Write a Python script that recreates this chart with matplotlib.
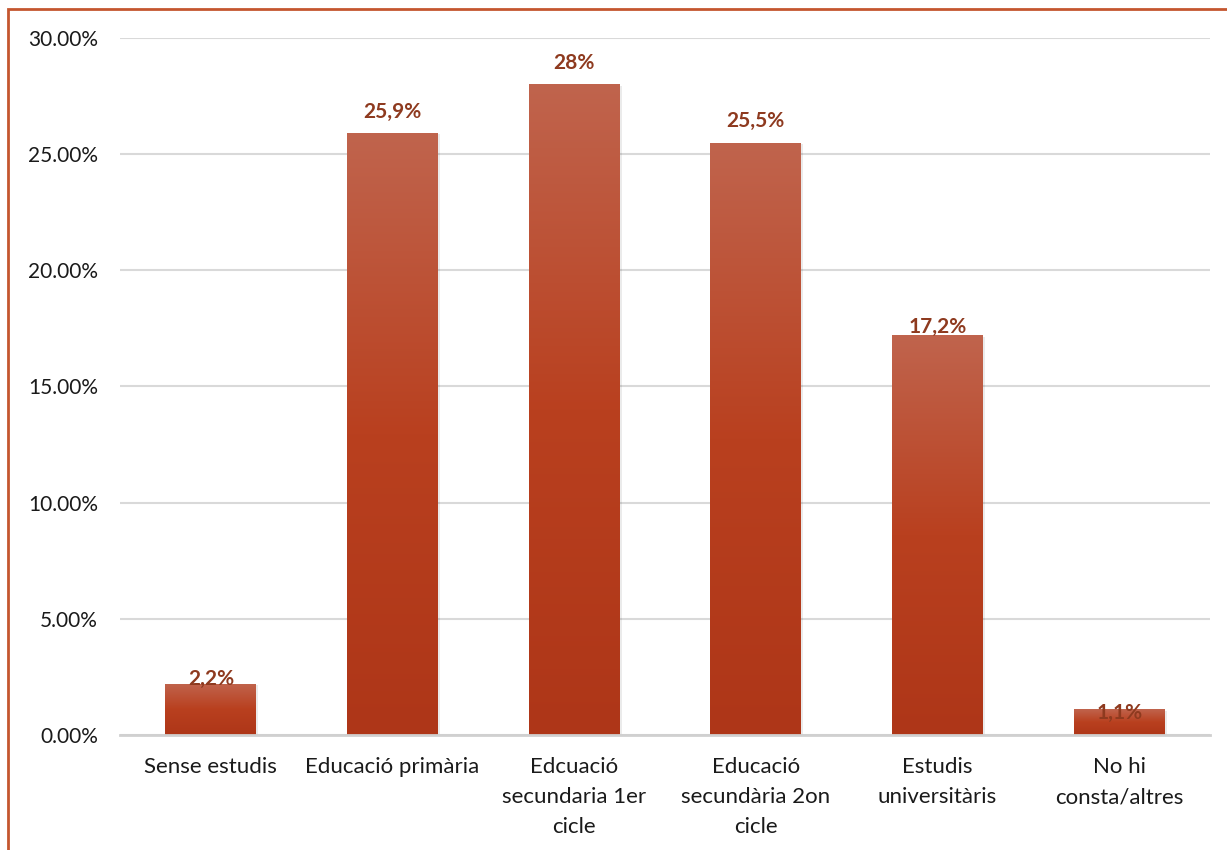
import numpy as np
import matplotlib.pyplot as plt
from matplotlib.patches import Rectangle
from matplotlib.colors import LinearSegmentedColormap

plt.rcParams['font.family'] = ['Lato', 'DejaVu Sans']

categories = ['Sense estudis', 'Educació primària', 'Edcuació\nsecundaria 1er\ncicle',
              'Educació\nsecundària 2on\ncicle', 'Estudis\nuniversitàris', 'No hi\nconsta/altres']
values = [2.2, 25.9, 28.0, 25.5, 17.2, 1.1]
labels = ['2,2%', '25,9%', '28%', '25,5%', '17,2%', '1,1%']
label_offsets = [-4, 8, 8, 8, -1, -10]  # points above bar top

fig = plt.figure(figsize=(12.27, 8.5), dpi=100)
ax = fig.add_axes([0.0978, 0.1353, 0.8884, 0.82])

x = np.arange(len(categories))
width = 0.5
cmap = LinearSegmentedColormap.from_list('bar', ['#AE3618', '#B9401F', '#C0644D'])
grad = np.linspace(0, 1, 256).reshape(-1, 1)

for xi, v in zip(x, values):
    # soft shadow
    ax.add_patch(Rectangle((xi - width / 2 + 0.012, 0), width, v - 0.05,
                           facecolor='#000000', alpha=0.08, edgecolor='none', zorder=2))
    bar = Rectangle((xi - width / 2, 0), width, v, facecolor='none', edgecolor='none', zorder=3)
    ax.add_patch(bar)
    im = ax.imshow(grad, cmap=cmap, aspect='auto', origin='lower',
                   extent=(xi - width / 2, xi + width / 2, 0, v), zorder=3)
    im.set_clip_path(bar)

for xi, v, lab, off in zip(x, values, labels, label_offsets):
    ax.annotate(lab, (xi, v), xytext=(0, off), textcoords='offset points',
                ha='center', va='bottom', fontsize=15, fontweight='bold', color='#8E3A1F')

ax.set_xlim(-0.5, len(categories) - 0.5)
ax.set_ylim(0, 30)
ax.set_yticks(np.arange(0, 31, 5))
ax.set_yticklabels([f'{t:.2f}%' for t in np.arange(0, 31, 5)])
ax.set_xticks(x)
ax.set_xticklabels(categories, linespacing=1.62, va='top')
ax.tick_params(axis='y', length=0, pad=16, labelsize=15, labelcolor='#1a1a1a')
ax.tick_params(axis='x', length=0, pad=16, labelsize=16, labelcolor='#1a1a1a')
ax.grid(axis='y', color='#D9D9D9', linewidth=1.5, zorder=0)
ax.set_axisbelow(True)
for s in ['top', 'right', 'left']:
    ax.spines[s].set_visible(False)
ax.spines['bottom'].set_color('#D0D0D0')
ax.spines['bottom'].set_linewidth(2)
ax.spines['bottom'].set_zorder(4)

# outer chart border (only left and top edges fall inside the image)
fig.patches.append(Rectangle((8 / 1227, -0.1), 1.2, (850 - 9) / 850 + 0.1,
                             transform=fig.transFigure, fill=False,
                             edgecolor='#C4562F', linewidth=2))

fig.savefig('out.png', dpi=100)
